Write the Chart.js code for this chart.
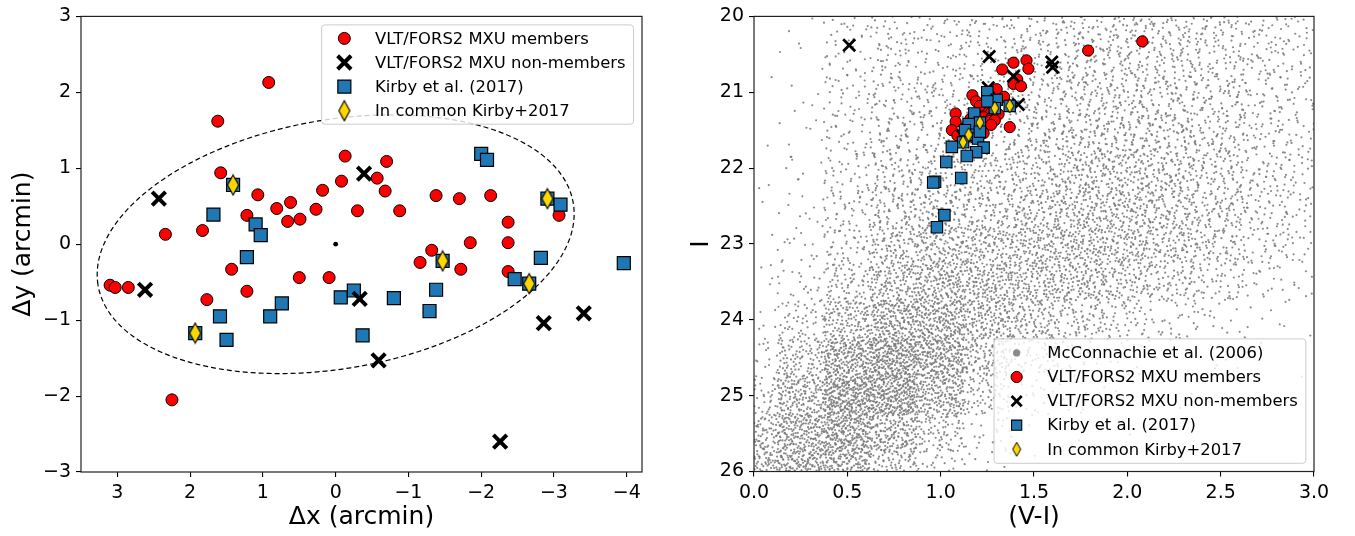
<!DOCTYPE html>
<html>
<head>
<meta charset="utf-8">
<script src="https://cdn.jsdelivr.net/npm/chart.js@4.4.1/dist/chart.umd.min.js"></script>
<style>
  html, body { margin: 0; padding: 0; background: #fff; }
  #wrap { position: relative; width: 1355px; height: 536px; overflow: hidden; }
  .panel { position: absolute; top: 0; }
  #sky-panel { left: 0; }
  #cmd-panel { left: 680px; }
</style>
</head>
<body>
<div id="wrap">
  <div class="panel" id="sky-panel"><canvas id="skyChart" width="680" height="536"></canvas></div>
  <div class="panel" id="cmd-panel"><canvas id="cmdChart" width="675" height="536"></canvas></div>
</div>
<script>
// ---- left panel: positions on the sky (arcmin) ----
const skyXTicks = [3, 2, 1, 0, -1, -2, -3, -4];
const skyYTicks = [-3, -2, -1, 0, 1, 2, 3];

const skyMembers = [
  [0.92, 2.13], [1.62, 1.62], [-0.13, 1.16], [1.58, 0.94], [1.07, 0.65], [0.18, 0.71],
  [-0.08, 0.83], [0.62, 0.55], [0.81, 0.47], [0.27, 0.46], [-0.30, 0.44], [1.22, 0.38],
  [0.66, 0.30], [0.49, 0.33], [2.34, 0.13], [1.83, 0.18], [-0.70, 1.09], [-0.57, 0.87],
  [-0.68, 0.70], [-1.38, 0.64], [-1.70, 0.60], [-2.13, 0.64], [-0.88, 0.44], [-3.07, 0.38],
  [-2.37, 0.29], [-1.85, 0.02], [-2.37, 0.02], [-1.32, -0.08], [3.10, -0.54], [3.03, -0.57],
  [2.85, -0.57], [1.43, -0.33], [0.50, -0.44], [0.09, -0.44], [1.22, -0.62], [1.77, -0.73],
  [2.25, -2.05], [-1.16, -0.24], [-1.72, -0.33], [-2.37, -0.36]
];
const skyNonMembers = [
  [-0.39, 0.93], [2.43, 0.60], [2.62, -0.60], [-0.33, -0.72], [-0.59, -1.53],
  [-2.86, -1.04], [-3.41, -0.91], [-2.26, -2.60]
];
const skyKirby = [
  [1.41, 0.78], [1.68, 0.39], [1.10, 0.26], [1.03, 0.12], [-2.00, 1.19], [-2.08, 1.11],
  [-2.91, 0.60], [-3.09, 0.52], [1.22, -0.17], [-0.07, -0.70], [-0.25, -0.61], [0.74, -0.78],
  [0.90, -0.95], [1.59, -0.95], [1.93, -1.17], [1.50, -1.26], [-0.37, -1.20], [-1.47, -0.22],
  [-2.82, -0.18], [-3.96, -0.25], [-2.46, -0.46], [-2.66, -0.52], [-0.80, -0.71],
  [-1.38, -0.60], [-1.29, -0.88]
];
const skyCommon = [[1.41, 0.78], [-2.91, 0.60], [1.93, -1.17], [-1.47, -0.22], [-2.66, -0.52]];
const skyCentre = [[0, 0]];
// dashed outline: centre, semi-axes (arcmin) and tilt (deg)
const skyEllipse = { cx: 0, cy: 0, a: 3.31, b: 1.64, angle: -9.25 };

// ---- right panel: colour-magnitude diagram ----
const cmdColorTicks = [0, 0.5, 1, 1.5, 2, 2.5, 3];
const cmdMagTicks = [20, 21, 22, 23, 24, 25, 26];

const cmdMembers = [
  [2.08, 20.33], [1.79, 20.45], [1.46, 20.58], [1.39, 20.61], [1.33, 20.70], [1.47, 20.69],
  [1.41, 20.83], [1.39, 20.89], [1.43, 20.92], [1.30, 20.96], [1.17, 21.04], [1.19, 21.12],
  [1.24, 21.23], [1.27, 21.27], [1.23, 21.33], [1.27, 21.34], [1.31, 21.29], [1.26, 21.38],
  [1.29, 21.37], [1.27, 21.43], [1.08, 21.28], [1.08, 21.39], [1.06, 21.50], [1.37, 21.46],
  [1.09, 21.57], [1.23, 21.54], [1.34, 21.06], [1.21, 21.18], [1.16, 21.35], [1.13, 21.47],
  [1.20, 21.47], [1.18, 21.60]
];
const cmdNonMembers = [
  [0.51, 20.38], [1.26, 20.53], [1.595, 20.60], [1.60, 20.67], [1.39, 20.79],
  [1.255, 20.94], [1.416, 21.16], [1.12, 21.58]
];
const cmdKirby = [
  [1.25, 21.00], [1.30, 21.10], [1.37, 21.18], [1.29, 21.21], [1.18, 21.28], [1.21, 21.40],
  [1.15, 21.42], [1.15, 21.56], [1.12, 21.66], [1.20, 21.61], [1.06, 21.72], [1.23, 21.73],
  [1.19, 21.79], [1.14, 21.84], [1.03, 21.92], [0.97, 22.18], [0.96, 22.19], [1.11, 22.13],
  [1.02, 22.62], [0.98, 22.78], [1.25, 21.12], [1.13, 21.50], [1.21, 21.52]
];
const cmdCommon = [[1.37, 21.18], [1.29, 21.21], [1.21, 21.40], [1.15, 21.56], [1.12, 21.66]];

// McConnachie et al. field: approximate star counts per (V-I, I) cell
const fieldColorEdges = [0, 0.25, 0.5, 0.75, 1, 1.25, 1.5, 1.75, 2, 2.25, 2.5, 2.75, 3];
const fieldMagEdges = [20, 20.5, 21, 21.5, 22, 22.5, 23, 23.5, 24, 24.5, 25, 25.5, 26];
const fieldCounts = [
  [  0,   6,  40,  30,  35,  40,  55,  64,  64,  60,  52,  30],
  [  1,   8,  46,  38,  42,  46,  64,  70,  70,  64,  52,  30],
  [  1,  10,  52,  46,  52,  58,  75,  82,  82,  70,  55,  32],
  [  2,  12,  55,  60,  60,  66,  86,  96,  94,  80,  58,  32],
  [  3,  16,  60,  85,  78,  80, 112, 122, 112,  92,  66,  34],
  [  4,  20,  68, 115,  95,  92, 125, 132, 114,  90,  64,  32],
  [  5,  26,  75, 150, 160, 135, 150, 130, 108,  86,  52,  20],
  [  8,  50, 125, 190, 170, 140, 125,  84,  52,  32,  16,   6],
  [ 16, 125, 230, 270, 190, 105,  62,  32,  16,   8,   4,   2],
  [ 32, 230, 350, 330, 145,  52,  20,   8,   4,   2,   0,   0],
  [ 85, 310, 310, 190,  62,  16,   6,   2,   0,   0,   0,   0],
  [165, 290, 145,  52,  16,   4,   0,   0,   0,   0,   0,   0]
];

Chart.defaults.font.family = '"DejaVu Sans", sans-serif';
Chart.defaults.color = '#000';

const toPoints = arr => arr.map(([x, y]) => ({ x, y }));

function radicalInverse(i, base) {
  let f = 1, r = 0;
  while (i > 0) {
    f /= base;
    r += f * (i % base);
    i = Math.floor(i / base);
  }
  return r;
}

// spread each cell's count evenly (a fresh stretch of one Halton sequence per cell)
// over a box twice the cell size, so neighbouring cells blend without seams
function spreadCounts(counts, xEdges, yEdges) {
  const xLo = xEdges[0], xHi = xEdges[xEdges.length - 1];
  const yLo = yEdges[0], yHi = yEdges[yEdges.length - 1];
  const fold = (v, lo, hi) => (v < lo ? 2 * lo - v : v > hi ? 2 * hi - v : v);
  const pts = [];
  let idx = 1;
  counts.forEach((row, r) => row.forEach((n, c) => {
    const dx = xEdges[c + 1] - xEdges[c], dy = yEdges[r + 1] - yEdges[r];
    const x0 = xEdges[c] - 0.5 * dx, y0 = yEdges[r] - 0.5 * dy;
    for (let k = 0; k < n; k++, idx++) {
      const u = radicalInverse(idx, 2);
      const v = radicalInverse(idx, 3);
      pts.push({
        x: fold(x0 + u * 2 * dx, xLo, xHi),
        y: fold(y0 + v * 2 * dy, yLo, yHi)
      });
    }
  }));
  return pts;
}

function diamondMarker(w, h, lw) {
  const c = document.createElement('canvas');
  c.width = Math.ceil(w + lw * 2);
  c.height = Math.ceil(h + lw * 2);
  const g = c.getContext('2d');
  const cx = c.width / 2, cy = c.height / 2;
  g.beginPath();
  g.moveTo(cx, cy - h / 2);
  g.lineTo(cx + w / 2, cy);
  g.lineTo(cx, cy + h / 2);
  g.lineTo(cx - w / 2, cy);
  g.closePath();
  g.fillStyle = '#ffd700';
  g.fill();
  g.lineWidth = lw;
  g.strokeStyle = '#000';
  g.stroke();
  return c;
}

const fmtMinus = v => (v < 0 ? '\u2212' + Math.abs(v) : String(v));

// Plugins
const framePlugin = {
  id: 'frame',
  afterDatasetsDraw(chart) {
    const { ctx, chartArea: a } = chart;
    ctx.save();
    ctx.strokeStyle = '#222';
    ctx.lineWidth = 1.2;
    ctx.strokeRect(a.left, a.top, a.right - a.left, a.bottom - a.top);
    ctx.restore();
  }
};

const ellipsePlugin = {
  id: 'ellipse',
  beforeDatasetsDraw(chart, args, opts) {
    if (!opts || !opts.a) return;
    const { ctx, scales: { x, y } } = chart;
    const th = opts.angle * Math.PI / 180;
    ctx.save();
    ctx.beginPath();
    for (let k = 0; k <= 360; k++) {
      const t = k * Math.PI / 180;
      const dx = opts.a * Math.cos(t) * Math.cos(th) - opts.b * Math.sin(t) * Math.sin(th);
      const dy = opts.a * Math.cos(t) * Math.sin(th) + opts.b * Math.sin(t) * Math.cos(th);
      const px = x.getPixelForValue(opts.cx + dx);
      const py = y.getPixelForValue(opts.cy + dy);
      if (k === 0) ctx.moveTo(px, py); else ctx.lineTo(px, py);
    }
    ctx.setLineDash([5, 3]);
    ctx.lineWidth = 1.2;
    ctx.strokeStyle = '#000';
    ctx.stroke();
    ctx.restore();
  }
};

// matplotlib-like framed legend drawn inside the plot area
const boxLegendPlugin = {
  id: 'boxLegend',
  afterDraw(chart, args, opts) {
    const { ctx, chartArea } = chart;
    const items = chart.data.datasets.filter(ds => ds.label);
    ctx.save();
    ctx.font = opts.font;
    const textW = Math.max(...items.map(ds => ctx.measureText(ds.label).width));
    const w = opts.textOffset + textW + opts.padRight;
    const h = opts.firstRow * 2 + (items.length - 1) * opts.rowHeight;
    const x = chartArea.right - opts.margin - w;
    const y = opts.corner === 'bottom' ? chartArea.bottom - opts.margin - h : chartArea.top + opts.margin;

    ctx.beginPath();
    ctx.roundRect(x, y, w, h, 3);
    ctx.fillStyle = 'rgba(255,255,255,0.8)';
    ctx.fill();
    ctx.strokeStyle = '#cccccc';
    ctx.lineWidth = 1;
    ctx.stroke();

    items.forEach((ds, i) => {
      const cy = y + opts.firstRow + i * opts.rowHeight;
      const m = ds.legendMarker || {};
      const bw = m.borderWidth !== undefined ? m.borderWidth : ds.pointBorderWidth;
      ctx.fillStyle = m.color || ds.pointBackgroundColor;
      ctx.strokeStyle = ds.pointBorderColor;
      ctx.lineWidth = bw;
      Chart.helpers.drawPoint(ctx, {
        pointStyle: m.pointStyle || ds.pointStyle,
        radius: m.radius !== undefined ? m.radius : ds.pointRadius,
        borderWidth: bw,
        rotation: 0
      }, x + opts.markerOffset, cy);
      ctx.fillStyle = '#000';
      ctx.textBaseline = 'middle';
      ctx.textAlign = 'left';
      ctx.fillText(ds.label, x + opts.textOffset, cy + 1);
    });
    ctx.restore();
  }
};

function axis(opts) {
  return {
    type: 'linear',
    min: opts.min,
    max: opts.max,
    reverse: !!opts.reverse,
    afterBuildTicks: s => { s.ticks = opts.ticks.map(v => ({ value: v })); },
    afterFit: opts.fit,
    ticks: { color: '#000', font: { size: 19 }, padding: opts.pad, autoSkip: false, maxRotation: 0, callback: opts.fmt },
    grid: { display: true, drawOnChartArea: false, drawTicks: true, tickLength: 5, color: '#000', lineWidth: 1.1 },
    border: { display: false },
    title: { display: true, text: opts.title, font: { size: 25 }, color: '#000', padding: opts.titlePad }
  };
}

const baseOptions = {
  responsive: false,
  animation: false,
  events: []
};

// Left chart
new Chart(document.getElementById('skyChart'), {
  type: 'scatter',
  data: {
    datasets: [
      {
        label: 'VLT/FORS2 MXU members', data: toPoints(skyMembers), order: 3,
        pointStyle: 'circle', pointRadius: 6, pointBackgroundColor: '#ff0000',
        pointBorderColor: '#000', pointBorderWidth: 1
      },
      {
        label: 'VLT/FORS2 MXU non-members', data: toPoints(skyNonMembers), order: 1,
        pointStyle: 'crossRot', pointRadius: 9.5, pointBackgroundColor: '#000',
        pointBorderColor: '#000', pointBorderWidth: 4
      },
      {
        label: 'Kirby et al. (2017)', data: toPoints(skyKirby), order: 2,
        pointStyle: 'rect', pointRadius: 9.2, pointBackgroundColor: '#1f77b4',
        pointBorderColor: '#000', pointBorderWidth: 1.2
      },
      {
        label: 'In common Kirby+2017', data: toPoints(skyCommon), order: 0,
        pointStyle: diamondMarker(11, 20, 1.1), pointRadius: 8, pointBackgroundColor: '#ffd700',
        pointBorderColor: '#000', pointBorderWidth: 1
      },
      {
        data: toPoints(skyCentre), order: 4,
        pointStyle: 'circle', pointRadius: 2.4, pointBackgroundColor: '#000',
        pointBorderColor: '#000', pointBorderWidth: 0
      }
    ]
  },
  options: {
    ...baseOptions,
    layout: { padding: { top: 12, right: 38, bottom: 0, left: 0 } },
    plugins: {
      legend: { display: false },
      tooltip: { enabled: false },
      ellipse: skyEllipse,
      boxLegend: {
        corner: 'top', margin: 8.5, rowHeight: 24.1, firstRow: 13.5,
        markerOffset: 22.7, textOffset: 53.4, padRight: 8, font: '16.4px "DejaVu Sans"'
      }
    },
    scales: {
      x: axis({ min: -4.21, max: 3.5, reverse: true, ticks: skyXTicks, fmt: fmtMinus, pad: 5,
        fit: s => { s.height = 64; }, title: '\u0394x (arcmin)', titlePad: { top: 0, bottom: 4 } }),
      y: axis({ min: -3, max: 3, ticks: skyYTicks, fmt: fmtMinus, pad: 5,
        fit: s => { s.width = 81; }, title: '\u0394y (arcmin)', titlePad: { top: 8, bottom: 0 } })
    }
  },
  plugins: [ellipsePlugin, framePlugin, boxLegendPlugin]
});

// Right chart
new Chart(document.getElementById('cmdChart'), {
  type: 'scatter',
  data: {
    datasets: [
      {
        label: 'McConnachie et al. (2006)',
        data: spreadCounts(fieldCounts, fieldColorEdges, fieldMagEdges), order: 4,
        pointStyle: 'circle', pointRadius: 1.1, pointBackgroundColor: 'rgba(120,120,120,0.85)',
        pointBorderColor: 'rgba(120,120,120,0.85)', pointBorderWidth: 0,
        legendMarker: { radius: 3.6, borderWidth: 0, color: '#8a8a8a' }
      },
      {
        label: 'VLT/FORS2 MXU members', data: toPoints(cmdMembers), order: 3,
        pointStyle: 'circle', pointRadius: 5.6, pointBackgroundColor: '#ff0000',
        pointBorderColor: '#000', pointBorderWidth: 1
      },
      {
        label: 'VLT/FORS2 MXU non-members', data: toPoints(cmdNonMembers), order: 2,
        pointStyle: 'crossRot', pointRadius: 8.5, pointBackgroundColor: '#000',
        pointBorderColor: '#000', pointBorderWidth: 2.8,
        legendMarker: { radius: 7.2, borderWidth: 2.8 }
      },
      {
        label: 'Kirby et al. (2017)', data: toPoints(cmdKirby), order: 1,
        pointStyle: 'rect', pointRadius: 8.1, pointBackgroundColor: '#1f77b4',
        pointBorderColor: '#000', pointBorderWidth: 1.1,
        legendMarker: { radius: 7.2 }
      },
      {
        label: 'In common Kirby+2017', data: toPoints(cmdCommon), order: 0,
        pointStyle: diamondMarker(8, 14, 1), pointRadius: 7, pointBackgroundColor: '#ffd700',
        pointBorderColor: '#000', pointBorderWidth: 1
      }
    ]
  },
  options: {
    ...baseOptions,
    layout: { padding: { top: 13, right: 41, bottom: 0, left: 0 } },
    plugins: {
      legend: { display: false },
      tooltip: { enabled: false },
      boxLegend: {
        corner: 'bottom', margin: 8.2, rowHeight: 24.1, firstRow: 14,
        markerOffset: 22.6, textOffset: 53.3, padRight: 8, font: '16.4px "DejaVu Sans"'
      }
    },
    scales: {
      x: axis({ min: 0, max: 3, ticks: cmdColorTicks, fmt: v => v.toFixed(1), pad: 5,
        fit: s => { s.height = 64.5; }, title: '(V-I)', titlePad: { top: 0, bottom: 4 } }),
      y: axis({ min: 20, max: 26, reverse: true, ticks: cmdMagTicks, fmt: v => String(v), pad: 5,
        fit: s => { s.width = 74; }, title: 'I', titlePad: { top: 6, bottom: 0 } })
    }
  },
  plugins: [framePlugin, boxLegendPlugin]
});
</script>
</body>
</html>
